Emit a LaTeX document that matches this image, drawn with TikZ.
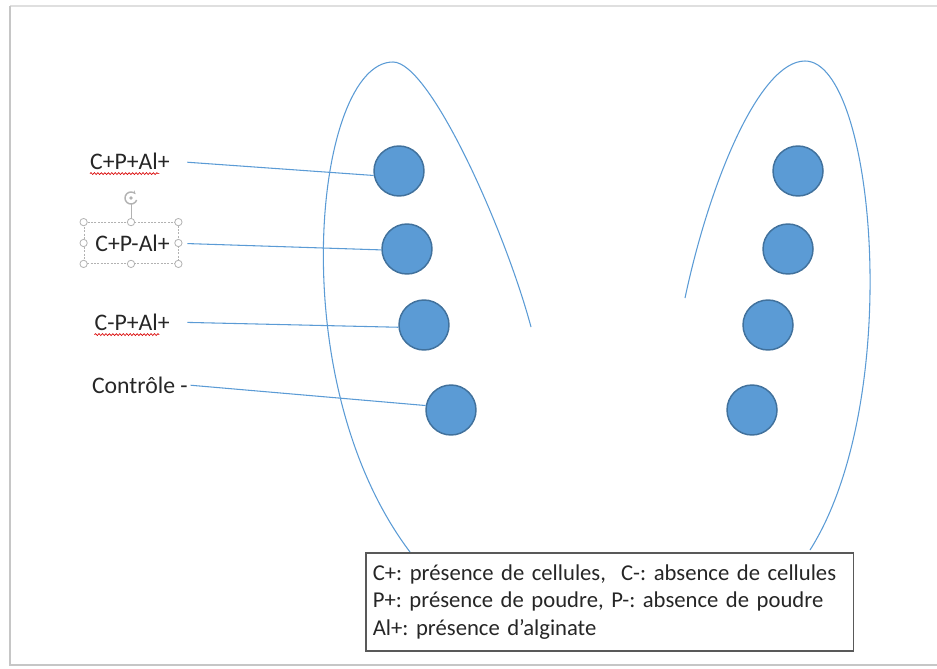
\documentclass[tikz,border=0pt]{standalone}
\usepackage{fontspec}
\setmainfont{Carlito}
\frenchspacing
\usetikzlibrary{positioning,decorations.pathmorphing,arrows.meta}
\definecolor{bleu}{HTML}{5B9BD5}
\definecolor{bleufonce}{HTML}{41719C}
\definecolor{gristexte}{HTML}{262626}
\tikzset{x=0.75pt, y=-0.75pt, % one unit is one pixel, y goes down
every node/.style={font=\fontsize{17}{20.6}\selectfont, text=gristexte}, % Calibri-like text
puits/.style={circle, fill=bleu, draw=bleufonce, line width=1.1pt, minimum size=37.5pt, inner sep=0pt}, % the wells
etiq/.style={anchor=east, inner sep=0pt, font=\fontsize{17.8}{21}\selectfont}, % the labels on the left
lien/.style={draw=bleu, line width=0.8pt, shorten <=13pt}, % from a label to its well
contour/.style={draw=bleu, line width=0.8pt}, % the two outlines
souligne/.style={draw=red!85!black, line width=0.5pt, decorate, decoration={snake, amplitude=0.7pt, segment length=2.6pt}}, % spell check
poignee/.style={circle, draw=gray!60, fill=white, line width=0.6pt, minimum size=5.5pt, inner sep=0pt}, % selection handles
}

\begin{document}
\begin{tikzpicture}
\useasboundingbox (0,0) rectangle (937,668);
% frame of the screenshot
\draw[gray!25, line width=1pt] (937,6) -- (10,6);
\draw[gray!45, line width=1.5pt] (10,6) -- (10,665) -- (937,665);

% the two outlines
\draw[contour] (410,552) .. controls (280,380) and (315,62) .. (393,62)
  .. controls (430,62) and (505,230) .. (531,327);
\draw[contour] (685,298) .. controls (710,180) and (760,61) .. (805,61)
  .. controls (875,61) and (905,400) .. (810,550);

% wells
\node[puits] (c1) at (399,171) {};
\node[puits] (c2) at (407,249) {};
\node[puits] (c3) at (424,325) {};
\node[puits] (c4) at (451,410) {};
\node[puits] (d1) at (798,171) {};
\node[puits] (d2) at (788,249) {};
\node[puits] (d3) at (768,325) {};
\node[puits] (d4) at (752,410) {};

% labels
\node[etiq] (l1) at (170,161) {C+P+Al+};
\node[etiq] (l2) at (170,243) {C+P-Al+};
\node[etiq] (l3) at (170,322) {C-P+Al+};
\node[etiq] (l4) at (188,385) {Contrôle -};
\draw[lien] (l1.east) -- (c1.190);
\draw[lien] (l2.east) -- (c2.182);
\draw[lien] (l3.east) -- (c3.185);
\draw[lien, shorten <=2pt] (l4.east) -- (c4.170);
\draw[souligne] ([yshift=-3pt]l1.south west) -- ([xshift=-8pt, yshift=-3pt]l1.south east);
\draw[souligne] ([yshift=-3pt]l3.south west) -- ([xshift=-8pt, yshift=-3pt]l3.south east);

% selection frame round the second label
\node[draw=gray!60, dash pattern=on 1.5pt off 1pt, line width=0.6pt, minimum width=70.5pt, minimum height=30.75pt] (sel) at (131,243) {};
\node[circle, minimum size=9pt, inner sep=0pt] (rot) at (131,198) {};
\draw[gray!60, line width=0.6pt] (sel.north) -- (rot);
\draw[gray!60, line width=1.1pt, -{Stealth[length=2.8pt]}] ([shift={(20:6)}]rot.center) arc[start angle=20, end angle=320, radius=6];
\fill[gray!60] (rot.center) circle[radius=1.4pt];
\foreach \a in {north west, north, north east, east, south east, south, south west, west}
  \node[poignee] at (sel.\a) {};

% legend
\node[draw=black!65, line width=1pt, text width=355pt, minimum height=73.5pt, align=left, inner xsep=5.25pt] (legende) at (609.5,602) {C+: présence de cellules,\ \ C-: absence de cellules\\ P+: présence de poudre, P-: absence de poudre\\ Al+: présence d’alginate};
\end{tikzpicture}
\end{document}
